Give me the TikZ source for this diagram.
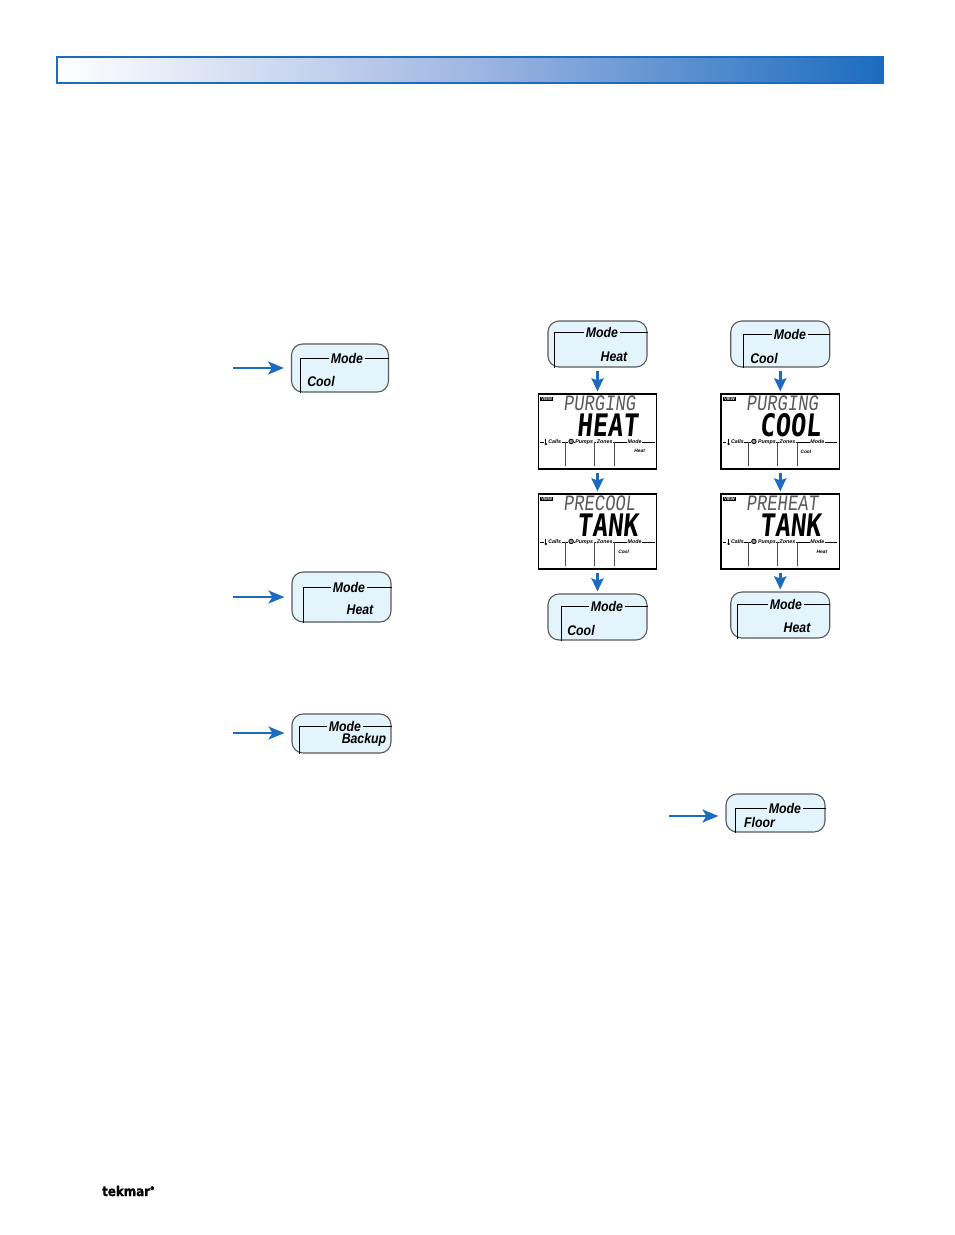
\documentclass[tikz,border=0pt]{standalone}
\usepackage{fontspec}
\usepackage{xcolor}
\usetikzlibrary{arrows.meta}
\setmainfont{Liberation Sans}
\newfontfamily\keyfont[FakeStretch=.88]{Liberation Sans Bold Italic}
\newfontfamily\lcdtopfont[FakeStretch=.78,FakeSlant=.12]{Liberation Mono}
\newfontfamily\lcdbigfont[FakeStretch=.82,FakeSlant=.1]{DejaVu Sans Mono Bold}
\newfontfamily\logofont[FakeStretch=.88,FakeBold=1.2]{DejaVu Sans Bold}

\definecolor{tekblue}{HTML}{1B6CBE}
\definecolor{barmid}{HTML}{A0B7E3}
\definecolor{keyfill}{HTML}{E3F4FD}

\tikzset{
  headerbar/.style={draw=tekblue,line width=1.1pt,left color=white,right color=tekblue,middle color=barmid,inner sep=0pt},
  keybox/.style={draw=black!65,line width=1.1pt,fill=keyfill,rounded corners=11pt,inner sep=0pt},
  keytext/.style={font=\keyfont\fontsize{14}{14}\selectfont,inner sep=2pt},
  keyline/.style={black,line width=1pt},
  lcdbox/.style={draw=black,line width=1.2pt,fill=white,inner sep=0pt,minimum width=118.5pt,minimum height=75pt},
  lcdsmall/.style={font=\fontsize{5.3}{5.3}\selectfont\bfseries\itshape,inner sep=.6pt,fill=white},
  lcdtop/.style={font=\lcdtopfont\fontsize{22}{22}\selectfont,text=black!65,inner sep=0pt,anchor=base west},
  lcdbig/.style={font=\lcdbigfont\fontsize{31}{31}\selectfont,inner sep=0pt,anchor=base east},
  flowarrow/.style={draw=tekblue,line width=3pt,-{Stealth[length=13pt,width=12pt,inset=2pt]},shorten <=3pt,shorten >=2pt},
  sidearrow/.style={draw=tekblue,line width=2.6pt,-{Stealth[length=16pt,width=13pt,inset=4pt]},shorten >=7pt}
}

% key: name, centre, width, height, corner x, Mode x, corner y, label, label position
\newcommand{\modekey}[9]{
  \node[keybox,minimum width=#3pt,minimum height=#4pt] (#1) at (#2) {};
  \node[keytext] (#1mode) at (#6,#7) {Mode};
  \node[keytext] (#1label) at (#9) {#8};
  \coordinate (#1corner) at (#5,#7);
  \draw[keyline] (#1.east |- #1corner) -- (#1mode.east);
  \draw[keyline] (#1mode.west) -- (#1corner) -- (#1corner |- #1.south);
}

% display: name, centre, upper line, lower line, mode label, label x, label y
\newcommand{\lcdpanel}[7]{
  \node[lcdbox] (#1) at (#2) {};
  \begin{scope}[shift={(#1.north west)}]
    \node[fill=black,text=white,font=\fontsize{4.2}{4.2}\selectfont\bfseries,inner sep=.8pt] (#1view) at (9,5.5) {VIEW};
    \node[lcdtop] (#1top) at (25.5,17.5) {#3};
    \node[lcdbig] (#1big) at (100.5,43) {#4};
    \draw[black,line width=.6pt] (2.5,48.5) -- (117,48.5);
    \foreach \xpos in {28,57,77}
      \draw[black!70,line width=.8pt] (\xpos,48.5) -- (\xpos,72.5);
    \fill[white] (6,45) rectangle (10.5,52);
    \fill (8.2,50.5) circle (1.3pt);
    \draw[line width=.8pt] (8.2,50.5) -- (8.2,45.5);
    \node[lcdsmall] (#1calls) at (17,48.5) {Calls};
    \node[lcdsmall] (#1pumps) at (46.5,48.5) {Pumps};
    \fill[white] (30.5,45) rectangle (36.5,52);
    \node[draw=black,circle,line width=.8pt,inner sep=1.6pt,fill=black!40] (#1fan) at (33.5,48) {};
    \node[lcdsmall] (#1zones) at (67,48.5) {Zones};
    \node[lcdsmall] (#1head) at (97,48.5) {Mode};
    \node[lcdsmall,font=\fontsize{4.8}{4.8}\selectfont\bfseries\itshape] (#1label) at (#6,#7) {#5};
  \end{scope}
}

\begin{document}
\begin{tikzpicture}[x=1pt,y=-1pt]
  \useasboundingbox (0,0) rectangle (954,1235);

  \node[headerbar,minimum width=826pt,minimum height=26pt] (bar) at (470,70) {};

  % single keys on the left
  \modekey{coolkey}{340,368}{97}{48}{300}{347}{358}{Cool}{321,381.5}
  \modekey{heatkey}{341.5,597}{99}{50}{303}{349}{587}{Heat}{360,610}
  \modekey{backupkey}{341.5,733.5}{99}{39}{299}{345}{726.5}{Backup}{364,739.5}
  \modekey{floorkey}{775.5,813}{99}{38}{735}{785}{808}{Floor}{759.5,822}

  \coordinate (coolstart) at (233,368);
  \coordinate (heatstart) at (233,597);
  \coordinate (backupstart) at (233,733);
  \coordinate (floorstart) at (669,816);

  % the two purge sequences
  \modekey{heatfrom}{597.5,344}{99}{46}{554}{602}{332}{Heat}{614,356.5}
  \lcdpanel{purgeheat}{597.5,431.5}{PURGING}{HEAT}{Heat}{102}{57.5}
  \lcdpanel{precool}{597.5,531.5}{PRECOOL}{TANK}{Cool}{86}{58}
  \modekey{coolto}{597.5,617}{99}{46}{561}{607}{606}{Cool}{581,630}

  \modekey{coolfrom}{780.25,344}{99}{46}{743}{790}{334}{Cool}{764,358}
  \lcdpanel{purgecool}{780.25,431.5}{PURGING}{COOL}{Cool}{85.5}{58.5}
  \lcdpanel{preheat}{780.25,531.5}{PREHEAT}{TANK}{Heat}{101.5}{58}
  \modekey{heatto}{780.25,615}{99}{46}{737}{786}{604}{Heat}{797,628}

  \path
    (coolstart) edge [sidearrow] (coolstart -| coolkey.west)
    (heatstart) edge [sidearrow] (heatstart -| heatkey.west)
    (backupstart) edge [sidearrow] (backupstart -| backupkey.west)
    (floorstart) edge [sidearrow] (floorstart -| floorkey.west)
    (heatfrom) edge [flowarrow] (purgeheat)
    (purgeheat) edge [flowarrow] (precool)
    (precool) edge [flowarrow] (coolto)
    (coolfrom) edge [flowarrow] (purgecool)
    (purgecool) edge [flowarrow] (preheat)
    (preheat) edge [flowarrow] (heatto);

  \node[font=\logofont\fontsize{13.5}{13.5}\selectfont,inner sep=0pt,anchor=base west] (logo) at (102,1196) {tekmar\raisebox{6pt}{\fontsize{5}{5}\selectfont\textregistered}};
\end{tikzpicture}
\end{document}
